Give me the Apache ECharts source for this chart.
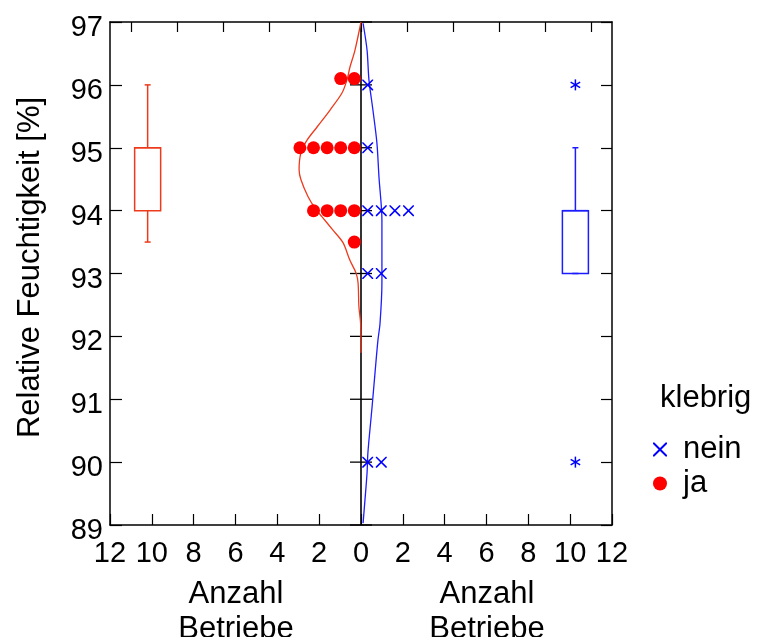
<!DOCTYPE html>
<html><head><meta charset="utf-8">
<script src="https://cdn.jsdelivr.net/npm/echarts@6/dist/echarts.min.js"></script>
<style>html,body{margin:0;padding:0;background:#fff}#c{width:764px;height:637px}</style>
</head><body><div id="c"></div>
<script>
// ---- data ----
const yTicks = [89, 90, 91, 92, 93, 94, 95, 96, 97];
const xTicks = [-12, -10, -8, -6, -4, -2, 0, 2, 4, 6, 8, 10, 12];
const topTicks = [-11, -8.8, -6.6, -4.4, -2.2, 0, 2.2, 4.4, 6.6, 8.8, 11];
const valuesJa = [96.1, 96.1, 95, 95, 95, 95, 95, 94, 94, 94, 94, 93.5];
const valuesNein = [96, 95, 94, 94, 94, 94, 93, 93, 90, 90];
// density curves: [count, humidity]
const densityJa = [[0,97],[-0.29,96.55],[-0.53,96.28],[-0.67,96.08],[-0.91,95.87],[-1.48,95.6],[-2.1,95.33],[-2.58,95.12],[-2.87,94.92],[-2.96,94.65],[-2.87,94.49],[-2.53,94.22],[-2.2,94.04],[-1.86,93.9],[-1.34,93.69],[-0.86,93.49],[-0.53,93.21],[-0.24,93.01],[-0.14,92.85],[-0.1,92.47],[-0.02,92.21],[0,91.74]];
const densityNein = [[0.1,96.98],[0.29,96.55],[0.38,96.08],[0.57,95.6],[0.76,95.08],[0.86,94.53],[1.0,93.85],[1.0,93.21],[1.0,92.85],[0.91,92.21],[0.81,91.94],[0.67,91.42],[0.53,90.88],[0.33,90.15],[0.29,89.83],[0.19,89.4],[0.1,89.03]];
// boxplots: [position, min, q1, median, q3, max]
const boxJa = [-10.2, 93.5, 94, 95, 95, 96];
const boxNein = [10.25, 93, 93, 94, 94, 95];
const outliersNein = [96, 90];

const RED = '#ff0000', RED_LINE = '#ee3a1c', BLUE = '#0000ff', BLUE_LINE = '#1c1cff';
const FONT = 'Liberation Sans, Arial, sans-serif';

// dot-plot stacking (layout)
function stack(values, dir) {
  const cnt = {}; const out = [];
  values.forEach(v => { const key = Math.round(v * 2) / 2; const k = cnt[key] || 0; cnt[key] = k + 1; out.push([dir * (0.32 + 0.65 * k), v]); });
  return out;
}
const crossPath = 'path://M0,0 L1,0 L10,9 L10,10 L9,10 L0,1 Z M10,0 L10,1 L1,10 L0,10 L0,9 L9,0 Z';

function boxRender(color) {
  return function (params, api) {
    const x = api.value(0);
    const c = k => api.coord([x, api.value(k)]);
    const pMin = c(1), pQ1 = c(2), pMed = c(3), pQ3 = c(4), pMax = c(5);
    const hw = 13, cw = 3;
    const st = { stroke: color, lineWidth: 1.5, fill: 'none' };
    return { type: 'group', children: [
      { type: 'rect', shape: { x: pQ1[0] - hw, y: pQ3[1], width: 2 * hw, height: pQ1[1] - pQ3[1] }, style: st },
      { type: 'line', shape: { x1: pMed[0] - hw, y1: pMed[1], x2: pMed[0] + hw, y2: pMed[1] }, style: st },
      { type: 'line', shape: { x1: pQ3[0], y1: pQ3[1], x2: pMax[0], y2: pMax[1] }, style: st },
      { type: 'line', shape: { x1: pQ1[0], y1: pQ1[1], x2: pMin[0], y2: pMin[1] }, style: st },
      { type: 'line', shape: { x1: pMax[0] - cw, y1: pMax[1], x2: pMax[0] + cw, y2: pMax[1] }, style: st },
      { type: 'line', shape: { x1: pMin[0] - cw, y1: pMin[1], x2: pMin[0] + cw, y2: pMin[1] }, style: st }
    ]};
  };
}
function starRender(params, api) {
  const p = api.coord([api.value(0), api.value(1)]);
  const r = 5.5, st = { stroke: BLUE, lineWidth: 1.5 };
  const a = r * Math.cos(Math.PI / 6), b = r * Math.sin(Math.PI / 6);
  return { type: 'group', children: [
    { type: 'line', shape: { x1: p[0], y1: p[1] - r, x2: p[0], y2: p[1] + r }, style: st },
    { type: 'line', shape: { x1: p[0] - a, y1: p[1] - b, x2: p[0] + a, y2: p[1] + b }, style: st },
    { type: 'line', shape: { x1: p[0] - a, y1: p[1] + b, x2: p[0] + a, y2: p[1] - b }, style: st }
  ]};
}

const chart = echarts.init(document.getElementById('c'), null, { renderer: 'canvas' });
const axisLineStyle = { color: '#000', width: 1.5 };
chart.setOption({
  animation: false,
  textStyle: { fontFamily: FONT },
  grid: { left: 110, right: 152, top: 22, bottom: 112 },
  xAxis: [
    { type: 'value', position: 'bottom', min: -12, max: 12, interval: 2,
      axisLine: { show: true, onZero: false, lineStyle: axisLineStyle },
      axisTick: { show: true, inside: true, length: 11, lineStyle: { color: '#000', width: 1.2 } },
      axisLabel: { fontSize: 29, color: '#000', margin: 14, fontFamily: FONT, formatter: v => String(Math.abs(v)) },
      splitLine: { show: false } },
    { type: 'value', position: 'top', min: -12, max: 12,
      axisLine: { show: true, onZero: false, lineStyle: axisLineStyle },
      axisTick: { show: true, inside: true, length: 10, customValues: topTicks, lineStyle: { color: '#000', width: 1.2 } },
      axisLabel: { show: false }, splitLine: { show: false } }
  ],
  yAxis: [
    { type: 'value', position: 'left', min: 89, max: 97, interval: 1,
      name: 'Relative Feuchtigkeit [%]', nameLocation: 'middle', nameGap: 64,
      nameTextStyle: { fontSize: 31, color: '#000', fontFamily: FONT, padding: [0, 0, 0, 12] },
      axisLine: { show: true, onZero: false, lineStyle: axisLineStyle },
      axisTick: { show: true, inside: true, length: 12, lineStyle: { color: '#000', width: 1.2 } },
      axisLabel: { fontSize: 29, color: '#000', margin: 7, fontFamily: FONT, verticalAlign: 'top', lineHeight: 12 },
      splitLine: { show: false } },
    { type: 'value', position: 'right', min: 89, max: 97, interval: 1,
      axisLine: { show: true, onZero: false, lineStyle: axisLineStyle },
      axisTick: { show: true, inside: true, length: 11, lineStyle: { color: '#000', width: 1.2 } },
      axisLabel: { show: false }, splitLine: { show: false } }
  ],
  legend: {
    orient: 'vertical', left: 648, top: 429, itemWidth: 36, itemHeight: 14, itemGap: 3,
    textStyle: { fontSize: 31, color: '#000', fontFamily: FONT },
    data: ['nein', 'ja']
  },
  graphic: [
    { type: 'text', left: 660, top: 383, style: { text: 'klebrig', fontSize: 31, fill: '#000', fontFamily: FONT } },
    { type: 'text', x: 236, y: 577, style: { text: 'Anzahl\nBetriebe', fontSize: 31, lineHeight: 35, align: 'center', fill: '#000', fontFamily: FONT } },
    { type: 'text', x: 487, y: 577, style: { text: 'Anzahl\nBetriebe', fontSize: 31, lineHeight: 35, align: 'center', fill: '#000', fontFamily: FONT } }
  ],
  series: [
    { type: 'line', silent: true, data: [[0, 89], [0, 97]], symbol: 'none', lineStyle: { color: '#000', width: 1.6 }, z: 1 },
    { type: 'scatter', silent: true, data: yTicks.map(v => [0, v]), symbol: 'rect', symbolSize: [22, 1.3], itemStyle: { color: '#000', opacity: 1 }, z: 1 },
    { type: 'line', silent: true, data: densityJa, symbol: 'none', smooth: 0.3, lineStyle: { color: RED_LINE, width: 1.3 }, z: 2 },
    { type: 'line', silent: true, data: densityNein, symbol: 'none', smooth: 0.3, lineStyle: { color: BLUE_LINE, width: 1.3 }, z: 2 },
    { name: 'ja', type: 'scatter', data: stack(valuesJa, -1), symbol: 'circle', symbolSize: 13, itemStyle: { color: RED, opacity: 1 }, z: 3 },
    { name: 'nein', type: 'scatter', data: stack(valuesNein, 1), symbol: crossPath, symbolSize: 11, itemStyle: { color: BLUE, opacity: 1 }, z: 3 },
    { type: 'custom', silent: true, data: [boxJa], encode: { x: 0, y: [1, 2, 3, 4, 5] }, renderItem: boxRender(RED_LINE), z: 2 },
    { type: 'custom', silent: true, data: [boxNein], encode: { x: 0, y: [1, 2, 3, 4, 5] }, renderItem: boxRender(BLUE_LINE), z: 2 },
    { type: 'custom', silent: true, data: outliersNein.map(v => [boxNein[0], v]), encode: { x: 0, y: 1 }, renderItem: starRender, z: 2 }
  ]
});
</script>
</body></html>
